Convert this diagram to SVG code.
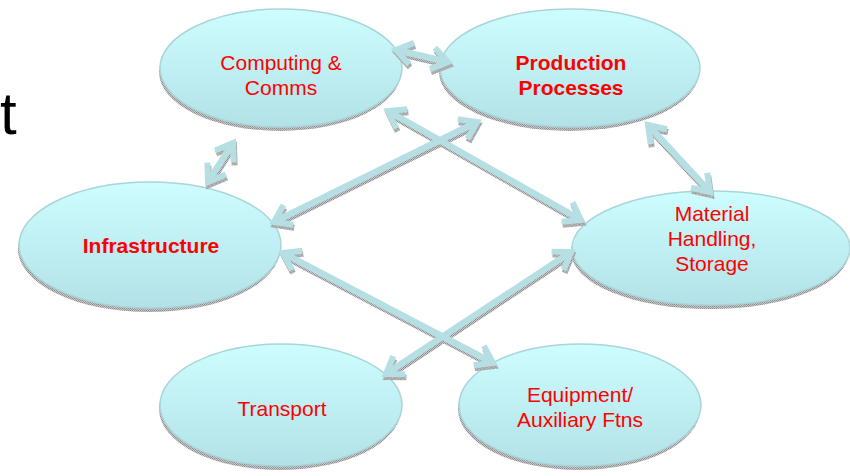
<svg xmlns="http://www.w3.org/2000/svg" width="850" height="476" viewBox="0 0 850 476">
<defs>
<linearGradient id="fillg" x1="0" y1="0" x2="0" y2="1">
<stop offset="0" stop-color="#cdfdfe"/>
<stop offset="1" stop-color="#b2e2e7"/>
</linearGradient>
<pattern id="grain" width="2" height="2" patternUnits="userSpaceOnUse">
<rect width="2" height="2" fill="#c8c8c8"/>
<rect width="1" height="1" fill="#8a8a8a"/>
<rect x="1" y="1" width="1" height="1" fill="#9a9a9a"/>
</pattern>
<marker id="ah" markerUnits="userSpaceOnUse" viewBox="-24 -16 30 32" refX="0" refY="0" markerWidth="30" markerHeight="32" orient="auto-start-reverse" overflow="visible">
<path d="M-16,-11 L0,0 L-16,11" fill="none" stroke="#b6dfe3" stroke-width="6"/>
</marker>
<marker id="ahs" markerUnits="userSpaceOnUse" viewBox="-24 -16 30 32" refX="0" refY="0" markerWidth="30" markerHeight="32" orient="auto-start-reverse" overflow="visible">
<path d="M-16,-11 L0,0 L-16,11" fill="none" stroke="url(#grain)" stroke-width="6"/>
</marker>
<style>
.node{fill:url(#fillg);stroke:#a9d5da;stroke-width:1.5}
.shadow{fill:url(#grain)}
.lbl{font-family:"Liberation Sans",Arial,sans-serif;font-size:21px;fill:#ff0000;text-anchor:middle}
.b{font-weight:bold}
.conn{fill:none;stroke:#b6dfe3;stroke-width:6.5;marker-start:url(#ah);marker-end:url(#ah)}
.conns{fill:none;stroke:url(#grain);stroke-width:6.5;marker-start:url(#ahs);marker-end:url(#ahs)}
</style>
</defs>
<rect width="850" height="476" fill="#ffffff"/>
<text x="0" y="134" font-family="Liberation Sans, Arial, sans-serif" font-size="60" fill="#000000">t</text>

<g id="computing">
<ellipse class="shadow" cx="280" cy="72" rx="121" ry="59"/>
<ellipse class="node" cx="281" cy="68" rx="121" ry="59"/>
<text class="lbl" x="281" y="70">Computing &amp;</text>
<text class="lbl" x="281" y="95">Comms</text>
</g>
<g id="production">
<ellipse class="shadow" cx="569" cy="72" rx="130" ry="59"/>
<ellipse class="node" cx="570" cy="68" rx="130" ry="59"/>
<text class="lbl b" x="571" y="70">Production</text>
<text class="lbl b" x="571" y="95">Processes</text>
</g>
<g id="infrastructure">
<ellipse class="shadow" cx="149" cy="249" rx="131" ry="63"/>
<ellipse class="node" cx="150" cy="245" rx="131" ry="63"/>
<text class="lbl b" x="151" y="253">Infrastructure</text>
</g>
<g id="material">
<ellipse class="shadow" cx="710" cy="252" rx="139" ry="57"/>
<ellipse class="node" cx="711" cy="248" rx="139" ry="57"/>
<text class="lbl" x="712" y="221">Material</text>
<text class="lbl" x="712" y="246">Handling,</text>
<text class="lbl" x="712" y="271">Storage</text>
</g>
<g id="transport">
<ellipse class="shadow" cx="280" cy="409" rx="121" ry="61"/>
<ellipse class="node" cx="281" cy="405" rx="121" ry="61"/>
<text class="lbl" x="282" y="416">Transport</text>
</g>
<g id="equipment">
<ellipse class="shadow" cx="579" cy="409" rx="121" ry="61"/>
<ellipse class="node" cx="580" cy="405" rx="121" ry="61"/>
<text class="lbl" x="580" y="402">Equipment/</text>
<text class="lbl" x="580" y="427">Auxiliary Ftns</text>
</g>

<g id="connectors">
<g transform="translate(1,3)">
<path class="conns" d="M396,50 L448,62"/>
<path class="conns" d="M208,182 L233,143"/>
<path class="conns" d="M388,111 L581,220"/>
<path class="conns" d="M477,122 L274,222"/>
<path class="conns" d="M283,253 L493,363"/>
<path class="conns" d="M571,252 L386,374"/>
<path class="conns" d="M648,125 L710,192"/>
</g>
<path class="conn" d="M396,50 L448,62"/>
<path class="conn" d="M208,182 L233,143"/>
<path class="conn" d="M388,111 L581,220"/>
<path class="conn" d="M477,122 L274,222"/>
<path class="conn" d="M283,253 L493,363"/>
<path class="conn" d="M571,252 L386,374"/>
<path class="conn" d="M648,125 L710,192"/>
</g>
</svg>
